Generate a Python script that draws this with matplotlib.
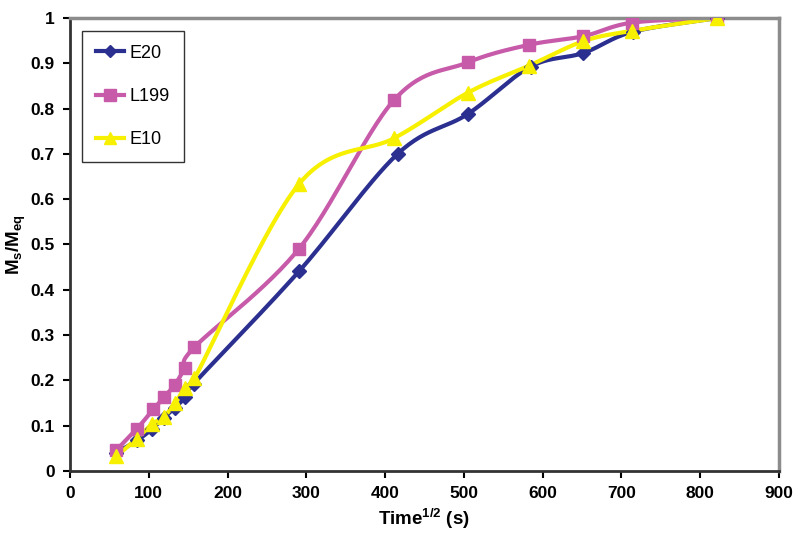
import numpy as np
import matplotlib.pyplot as plt
from matplotlib import font_manager

# data
time_e20 = [59, 85, 104, 119, 133, 146, 157, 291, 416, 505, 585, 652, 715, 822]
ms_e20 = [0.04, 0.067, 0.092, 0.117, 0.139, 0.162, 0.192, 0.441, 0.70, 0.788, 0.893, 0.923, 0.97, 1.0]

time_l199 = [59, 85, 106, 119, 133, 146, 158, 291, 412, 505, 583, 652, 714, 822]
ms_l199 = [0.046, 0.093, 0.136, 0.162, 0.19, 0.228, 0.273, 0.491, 0.82, 0.902, 0.941, 0.96, 0.99, 1.0]

time_e10 = [59, 85, 104, 119, 133, 146, 158, 291, 412, 505, 583, 652, 714, 822]
ms_e10 = [0.032, 0.071, 0.103, 0.119, 0.149, 0.182, 0.204, 0.634, 0.735, 0.835, 0.895, 0.949, 0.972, 1.0]

names = ['Liberation Sans Narrow', 'Liberation Sans', 'DejaVu Sans']
avail = {f.name for f in font_manager.fontManager.ttflist}
fam = [n for n in names if n in avail]
plt.rcParams['font.family'] = fam
plt.rcParams['mathtext.fontset'] = 'custom'
plt.rcParams['mathtext.rm'] = fam[0]
plt.rcParams['mathtext.bf'] = fam[0] + ':bold'
plt.rcParams['mathtext.default'] = 'bf'

XMAX, YMAX = 900.0, 1.0


def smooth(xs, ys, n=30):
    """Excel-like smoothed line (cardinal Bezier) through the points."""
    # work in normalised space so both axes weigh the same
    px = np.asarray(xs, float) / XMAX * 1.57
    py = np.asarray(ys, float) / YMAX
    P = np.column_stack([px, py])
    P = np.vstack([P[0], P, P[-1]])
    out = []
    t = np.linspace(0, 1, n)[:, None]
    for i in range(1, len(P) - 2):
        p0, p1, p2, p3 = P[i - 1], P[i], P[i + 1], P[i + 2]
        c1 = p1 + (p2 - p0) / 6
        c2 = p2 - (p3 - p1) / 6
        seg = ((1 - t) ** 3) * p1 + 3 * ((1 - t) ** 2) * t * c1 + 3 * (1 - t) * t ** 2 * c2 + t ** 3 * p2
        out.append(seg)
    out = np.vstack(out)
    return out[:, 0] * XMAX / 1.57, out[:, 1] * YMAX


fig = plt.figure(figsize=(8, 5.43), dpi=100)
ax = fig.add_axes([0.0875, 0.133, 0.886, 0.8337])

series = [
    ('E20', time_e20, ms_e20, '#2B3090', 'D', 7),
    ('L199', time_l199, ms_l199, '#C75BAA', 's', 9),
    ('E10', time_e10, ms_e10, '#F7F000', '^', 10),
]
for name, xs, ys, col, mk, ms in series:
    sx, sy = smooth(xs, ys)
    ax.plot(sx, sy, color=col, lw=3, zorder=2, solid_capstyle='round')
    ax.plot(xs, ys, ls='none', marker=mk, ms=ms, color=col, zorder=3)
    ax.plot([], [], color=col, lw=3, marker=mk, ms=ms - 1, label=name)

ax.set_xlim(0, 900)
ax.set_ylim(0, 1)
ax.set_xticks(np.arange(0, 901, 100))
ax.set_yticks(np.arange(0, 1.01, 0.1))
ax.set_yticklabels(['0', '0.1', '0.2', '0.3', '0.4', '0.5', '0.6', '0.7', '0.8', '0.9', '1'])
ax.tick_params(direction='out', length=5, width=1.5, labelsize=12.5, pad=6)
for lab in ax.get_xticklabels() + ax.get_yticklabels():
    lab.set_fontweight('bold')

for s in ['left', 'bottom']:
    ax.spines[s].set_linewidth(2)
    ax.spines[s].set_color('#333333')
for s in ['top', 'right']:
    ax.spines[s].set_linewidth(2.5)
    ax.spines[s].set_color('#8C8C8C')

ax.set_xlabel(r'Time$^{\mathbf{1/2}}$ (s)', fontsize=13.5, fontweight='bold', labelpad=4)
# place the y label by hand, just left of the tick labels
fig.text(0.021, 0.133 + 0.8337 / 2, r'M$_{\mathbf{s}}$/M$_{\mathbf{eq}}$', fontsize=13.5,
         fontweight='bold', rotation=90, ha='center', va='center')

leg = ax.legend(loc='upper left', bbox_to_anchor=(0.017, 0.971), fontsize=13,
                frameon=True, fancybox=False, labelspacing=1.45, borderpad=0.75,
                handlelength=1.6, handletextpad=0.3, borderaxespad=0)
leg.get_frame().set_edgecolor('black')
leg.get_frame().set_linewidth(1)

fig.savefig('out.png', dpi=100)
